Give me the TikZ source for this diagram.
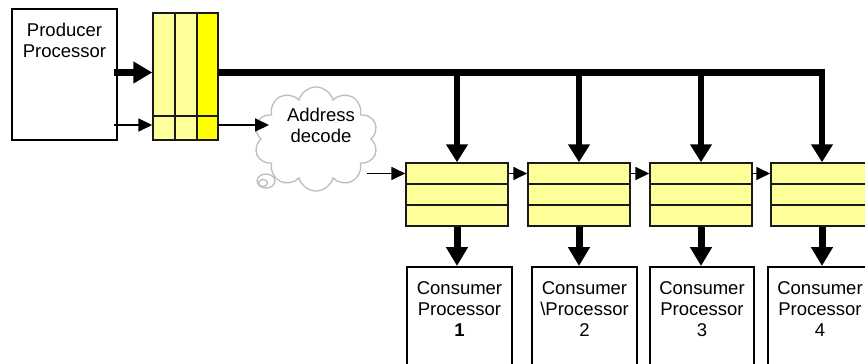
\documentclass[tikz,border=0pt]{standalone}
\usepackage{fontspec}
\setmainfont{Liberation Sans}
\usetikzlibrary{arrows.meta,shapes.symbols,calc}
\definecolor{paleyellow}{HTML}{FFFF99}
\definecolor{brightyellow}{HTML}{FFFF00}
\definecolor{cloudgray}{HTML}{BDBDBD}
\definecolor{edgegray}{HTML}{1A1A1A}

\begin{document}
\begin{tikzpicture}[x=1pt,y=-1pt,
  lbl/.style={font=\fontsize{18.5}{21}\selectfont, align=center, inner sep=0pt},
  box/.style={draw=black, line width=1.5pt, fill=white, inner sep=0pt},
  pcol/.style={draw=edgegray, line width=1.5pt, fill=paleyellow, inner sep=0pt,
               minimum width=22pt, minimum height=127pt},
  cell/.style={draw=edgegray, line width=1.5pt, fill=paleyellow, inner sep=0pt,
               minimum width=102pt, minimum height=21pt},
  fat/.style={line width=7pt, -{Triangle[length=19pt,width=21pt]}},
  busarrow/.style={line width=6.5pt, line join=miter, -{Triangle[length=18pt,width=21pt]}},
  thin/.style={line width=1.8pt, -{Triangle[length=14pt,width=13pt]}},
]
\useasboundingbox (0,0) rectangle (865,364);
\clip (0,0) rectangle (865,364);

% helper heights
\coordinate (busy) at (0,72.5);
\coordinate (addry) at (0,125);
\coordinate (splity) at (0,116);

% producer
\node[box, minimum width=105pt, minimum height=131pt] (prod) at (64.5,74.5) {};
\node[lbl, anchor=north] (prodt) at (64.5,23) {Producer\\Processor};

% producer output register
\node[pcol] (pc1) at (164,76.5) {};
\node[pcol] (pc2) at (186,76.5) {};
\node[pcol, fill=brightyellow, minimum width=21pt] (pc3) at (207.5,76.5) {};
\draw[line width=1.5pt, edgegray] (pc1.west |- splity) -- (pc3.east |- splity);

% address decode cloud
\node[cloud, cloud puffs=10, aspect=1.2, draw=cloudgray, line width=1.3pt, fill=white,
      minimum width=124pt, minimum height=104pt, inner sep=0pt] (cloud) at (316,139) {};
\draw[cloudgray, line width=1.3pt, fill=white] (266,181) ellipse [x radius=9, y radius=7];
\draw[cloudgray, line width=1.3pt] (263,183) ellipse [x radius=4.5, y radius=3.5];
\node[lbl, anchor=north] (addrt) at (321,107.5) {Address\\decode};
\coordinate (cexit) at (367,0);

% consumer input registers
\foreach \i/\x in {1/457,2/579,3/701,4/822}{
  \node[cell] (r\i a) at (\x,173.5) {};
  \node[cell] (r\i b) at (\x,194.5) {};
  \node[cell] (r\i c) at (\x,215.5) {};
}

% consumers
\node[box, minimum width=105pt, minimum height=130pt, anchor=north] (c1) at (459.5,266) {};
\node[box, minimum width=105pt, minimum height=130pt, anchor=north] (c2) at (584.5,266) {};
\node[box, minimum width=104pt, minimum height=130pt, anchor=north] (c3) at (702,266) {};
\node[box, minimum width=104pt, minimum height=130pt, anchor=north] (c4) at (820,266) {};
\node[lbl, anchor=north] (c1t) at (459.5,281.5) {Consumer\\Processor\\\textbf{1}};
\node[lbl, anchor=north] (c2t) at (584.5,281.5) {Consumer\\\textbackslash Processor\\2};
\node[lbl, anchor=north] (c3t) at (702,281.5) {Consumer\\Processor\\3};
\node[lbl, anchor=north] (c4t) at (820,281.5) {Consumer\\Processor\\4};

% producer to register
\draw[fat] ($(prod.east |- busy)+(-4,0)$) -- (pc1.west |- busy);
\draw[thin] ($(prod.east |- addry)+(-4,0)$) -- (pc1.west |- addry);

% address path
\draw[thin] (pc3.east |- addry) -- ($(cloud.west |- addry)+(9,0)$);
\draw[thin] (cexit |- r1a.west) -- (r1a.west);
\draw[thin] (r1a.east) -- (r2a.west);
\draw[thin] (r2a.east) -- (r3a.west);
\draw[thin] (r3a.east) -- (r4a.west);

% data bus
\draw[busarrow] (pc3.east |- busy) -- (r4a.north |- busy) -- (r4a.north);
\foreach \i in {1,2,3}{
  \draw[busarrow] (r\i a.north |- busy) -- (r\i a.north);
}

% register to consumer
\foreach \i in {1,2,3,4}{
  \draw[fat] (r\i c.south) -- (r\i c.south |- c\i.north);
}
\end{tikzpicture}
\end{document}
